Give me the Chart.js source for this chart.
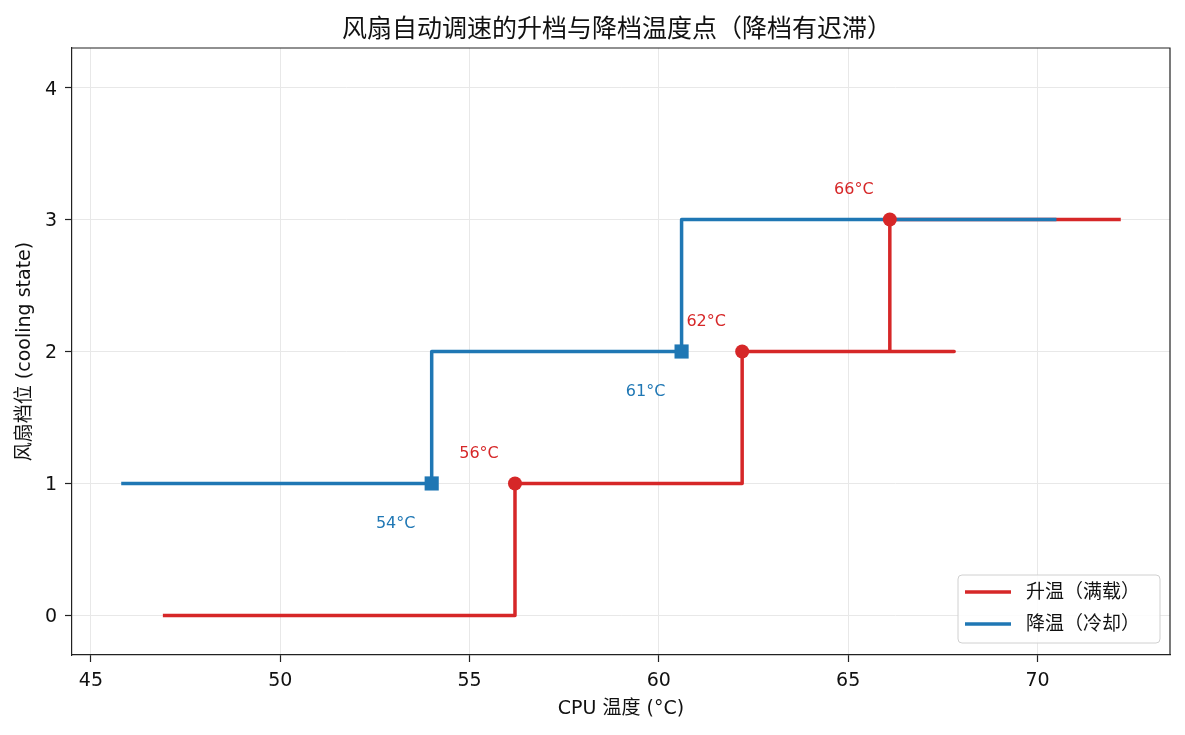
<!DOCTYPE html>
<html>
<head>
<meta charset="utf-8">
<script src="https://cdn.jsdelivr.net/npm/chart.js@4.4.1/dist/chart.umd.min.js"></script>
<style>
  html, body { margin: 0; padding: 0; background: #fff; }
  #wrap { width: 1185px; height: 735px; }
</style>
</head>
<body>
<div id="wrap"><canvas id="myChart" width="1185" height="735"></canvas></div>
<script>
// step path when heating up (full load)
const upTemps  = [46.9, 56.2, 56.2, 62.2, 62.2, 67.8, 66.1, 66.1, 72.2];
const upStates = [0, 0, 1, 1, 2, 2, 2, 3, 3];

// step path when cooling down
const downTemps  = [45.8, 54.0, 54.0, 60.6, 60.6, 70.5];
const downStates = [1, 1, 2, 2, 3, 3];

// switch points with their labels
const upSwitchTemps   = [56.2, 62.2, 66.1];
const upSwitchStates  = [1, 2, 3];
const upSwitchLabels  = ['56°C', '62°C', '66°C'];
const downSwitchTemps  = [54.0, 60.6];
const downSwitchStates = [1, 2];
const downSwitchLabels = ['54°C', '61°C'];

// ticks
const xTicks = [45, 50, 55, 60, 65, 70];
const yTicks = [0, 1, 2, 3, 4];

const chartTitle = '风扇自动调速的升档与降档温度点（降档有迟滞）';
const seriesNames = ['升温（满载）', '降温（冷却）'];
const red  = '#d62728';
const blue = '#1f77b4';
const font = '"DejaVu Sans", "Noto Sans CJK SC", sans-serif';

function toPoints(xs, ys) {
  let pts = [];
  for (let i = 0; i < xs.length; i++) {
    pts.push({x: xs[i], y: ys[i]});
  }
  return pts;
}

// title over the axes, frame, point labels and the legend box
const extras = {
  id: 'extras',
  afterDraw(chart) {
    const ctx = chart.ctx;
    const a = chart.chartArea;
    const xs = chart.scales.x, ys = chart.scales.y;

    ctx.save();
    // title centred on the plot area
    ctx.font = '25px ' + font;
    ctx.fillStyle = '#111';
    ctx.textAlign = 'center';
    ctx.textBaseline = 'middle';
    ctx.fillText(chartTitle, (a.left + a.right) / 2 - 4, a.top - 18);

    // top and right spines
    ctx.strokeStyle = '#222';
    ctx.lineWidth = 1.2;
    ctx.beginPath();
    ctx.moveTo(a.left, a.top);
    ctx.lineTo(a.right, a.top);
    ctx.lineTo(a.right, a.bottom);
    ctx.stroke();

    // labels next to the switch points
    ctx.font = '16px ' + font;
    ctx.fillStyle = red;
    for (let i = 0; i < upSwitchTemps.length; i++) {
      ctx.fillText(upSwitchLabels[i], xs.getPixelForValue(upSwitchTemps[i]) - 36,
                   ys.getPixelForValue(upSwitchStates[i]) - 30);
    }
    ctx.fillStyle = blue;
    for (let i = 0; i < downSwitchTemps.length; i++) {
      ctx.fillText(downSwitchLabels[i], xs.getPixelForValue(downSwitchTemps[i]) - 36,
                   ys.getPixelForValue(downSwitchStates[i]) + 40);
    }

    // legend
    const bx = a.right - 212, by = a.bottom - 80, bw = 202, bh = 68;
    ctx.beginPath();
    ctx.roundRect(bx, by, bw, bh, 4);
    ctx.fillStyle = 'rgba(255,255,255,0.85)';
    ctx.fill();
    ctx.strokeStyle = '#d0d0d0';
    ctx.lineWidth = 1;
    ctx.stroke();
    const colors = [red, blue];
    ctx.font = '19px ' + font;
    ctx.textAlign = 'left';
    for (let i = 0; i < 2; i++) {
      const ly = by + 17 + i * 32;
      ctx.strokeStyle = colors[i];
      ctx.lineWidth = 3.5;
      ctx.beginPath();
      ctx.moveTo(bx + 7, ly);
      ctx.lineTo(bx + 53, ly);
      ctx.stroke();
      ctx.fillStyle = '#111';
      ctx.fillText(seriesNames[i], bx + 68, ly + 1);
    }
    ctx.restore();
  }
};

let options = {
  type: 'scatter',
  data: {
    datasets: [
      {
        label: seriesNames[0] + ' 点',
        data: toPoints(upSwitchTemps, upSwitchStates),
        pointStyle: 'circle',
        pointRadius: 7,
        pointHoverRadius: 7,
        backgroundColor: red,
        borderColor: red,
        borderWidth: 0,
        showLine: false,
        order: 0
      },
      {
        label: seriesNames[1] + ' 点',
        data: toPoints(downSwitchTemps, downSwitchStates),
        pointStyle: 'rect',
        pointRadius: 10,
        pointHoverRadius: 10,
        backgroundColor: blue,
        borderColor: blue,
        borderWidth: 0,
        showLine: false,
        order: 1
      },
      {
        label: seriesNames[1],
        data: toPoints(downTemps, downStates),
        showLine: true,
        borderColor: blue,
        borderWidth: 3.5,
        borderJoinStyle: 'round',
        pointRadius: 0,
        pointHoverRadius: 0,
        tension: 0,
        order: 2
      },
      {
        label: seriesNames[0],
        data: toPoints(upTemps, upStates),
        showLine: true,
        borderColor: red,
        borderWidth: 3.5,
        borderJoinStyle: 'round',
        pointRadius: 0,
        pointHoverRadius: 0,
        tension: 0,
        order: 3
      }
    ]
  },
  options: {
    responsive: false,
    animation: false,
    devicePixelRatio: 1,
    layout: { padding: { left: 0, right: 15, top: 48, bottom: 0 } },
    plugins: {
      legend: { display: false },
      tooltip: { enabled: false },
      title: { display: false }
    },
    scales: {
      x: {
        type: 'linear',
        min: 44.5,
        max: 73.5,
        afterBuildTicks: function(s) { s.ticks = xTicks.map(v => ({value: v})); },
        afterFit: function(s) { s.height = 80; },
        ticks: { color: '#111', padding: 8, font: { family: font, size: 19 } },
        grid: { color: '#e8e8e8', lineWidth: 1, tickLength: 7, tickColor: '#222', tickWidth: 1.2 },
        border: { color: '#222', width: 1.2 },
        title: {
          display: true,
          text: 'CPU 温度 (°C)',
          color: '#111',
          font: { family: font, size: 19 },
          padding: { top: 0, bottom: 15 }
        }
      },
      y: {
        type: 'linear',
        min: -0.3,
        max: 4.3,
        afterBuildTicks: function(s) { s.ticks = yTicks.map(v => ({value: v})); },
        afterFit: function(s) { s.width = 72; },
        ticks: { color: '#111', padding: 8, labelOffset: 2, font: { family: font, size: 19 } },
        grid: { color: '#e8e8e8', lineWidth: 1, tickLength: 7, tickColor: '#222', tickWidth: 1.2 },
        border: { color: '#222', width: 1.2 },
        title: {
          display: true,
          text: '风扇档位 (cooling state)',
          color: '#111',
          font: { family: font, size: 19 },
          padding: { top: 14, bottom: 0 }
        }
      }
    }
  },
  plugins: [extras]
};

let mChart = new Chart(document.getElementById('myChart'), options);
</script>
</body>
</html>
